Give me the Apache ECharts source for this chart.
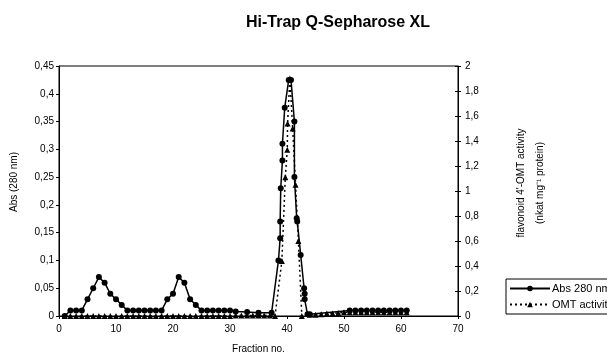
<!DOCTYPE html>
<html>
<head>
<meta charset="utf-8">
<script src="https://cdn.jsdelivr.net/npm/echarts@6/dist/echarts.min.js"></script>
<style>
    html, body {margin: 0; padding: 0; background: #fff;}
    #chart {width: 607px; height: 354px;}
</style>
</head>
<body>
<div id="chart"></div>
<script>
// Abs 280 nm, fraction no. and absorbance (left axis)
const absFractions = [1, 2, 3, 4, 5, 6, 7, 8, 9, 10, 11, 12, 13, 14, 15, 16, 17, 18, 19, 20,
    21, 22, 23, 24, 25, 26, 27, 28, 29, 30, 31, 33, 35, 37.3,
    38.5, 38.8, 38.8, 38.9, 39.2, 39.2, 39.6, 40.3, 40.7, 41.3, 41.3, 41.7, 41.8, 42.4, 43, 43.1, 43.1, 43.6, 44,
    51, 52, 53, 54, 55, 56, 57, 58, 59, 60, 61];
const absValues = [0, 0.01, 0.01, 0.01, 0.03, 0.05, 0.07, 0.06, 0.04, 0.03, 0.02, 0.01, 0.01, 0.01, 0.01, 0.01, 0.01, 0.01, 0.03, 0.04,
    0.07, 0.06, 0.03, 0.02, 0.01, 0.01, 0.01, 0.01, 0.01, 0.01, 0.008, 0.007, 0.006, 0.006,
    0.1, 0.14, 0.17, 0.23, 0.28, 0.31, 0.375, 0.425, 0.425, 0.35, 0.25, 0.176, 0.17, 0.11, 0.05, 0.04, 0.03, 0.003, 0.003,
    0.01, 0.01, 0.01, 0.01, 0.01, 0.01, 0.01, 0.01, 0.01, 0.01, 0.01];

// OMT activity, fraction no. and activity (right axis)
const omtFractions = [1, 2, 3, 4, 5, 6, 7, 8, 9, 10, 11, 12, 13, 14, 15, 16, 17, 18, 19, 20,
    21, 22, 23, 24, 25, 26, 27, 28, 29, 30, 31, 32, 33, 34, 35, 36, 37, 37.9,
    39.1, 39.7, 40.05, 40.1, 40.5, 41, 41.5, 42, 42.6,
    44, 45, 46, 47, 48, 49, 50, 51, 52, 53, 54, 55, 56, 57, 58, 59, 60, 61];
const omtValues = [0, 0, 0, 0, 0, 0, 0, 0, 0, 0, 0, 0, 0, 0, 0, 0, 0, 0, 0, 0,
    0, 0, 0, 0, 0, 0, 0, 0, 0, 0, 0.005, 0.005, 0.005, 0.005, 0.005, 0.005, 0.005, 0,
    0.44, 1.11, 1.33, 1.54, 1.9, 1.5, 1.05, 0.6, 0,
    0.01, 0.01, 0.015, 0.02, 0.02, 0.025, 0.03, 0.03, 0.03, 0.03, 0.03, 0.03, 0.03, 0.03, 0.03, 0.03, 0.03, 0.03];

const seriesNames = ['Abs 280 nm', 'OMT activity'];

function pairs(xs, ys) {
    return xs.map((x, i) => [x, ys[i]]);
}

// Decimal comma like the original
function commaLabel(v) {
    return String(Math.round(v * 1000) / 1000).replace('.', ',');
}

let myChart = echarts.init(document.getElementById('chart'));

let option = {
    backgroundColor: '#fff',
    animation: false,
    textStyle: {fontFamily: 'Liberation Sans, Arial, sans-serif', color: '#000'},
    title: {
        text: 'Hi-Trap Q-Sepharose XL',
        left: 333,
        textAlign: 'center',
        top: 10,
        textStyle: {fontSize: 16, fontWeight: 'bold', color: '#000', fontFamily: 'Liberation Sans, Arial, sans-serif'}
    },
    legend: {
        orient: 'vertical',
        left: 506,
        top: 279,
        padding: [4, 4, 4, 3],
        itemGap: 5,
        itemWidth: 40,
        itemHeight: 7,
        borderColor: '#000',
        borderWidth: 1,
        borderRadius: 0,
        textStyle: {fontSize: 11, color: '#000', padding: [0, 0, 0, -3]},
        data: seriesNames
    },
    grid: {
        left: 59,
        right: 149,
        top: 66,
        bottom: 38,
        outerBoundsMode: 'none',
        show: true,
        borderColor: '#000',
        borderWidth: 1
    },
    xAxis: {
        type: 'value',
        min: 0,
        max: 70,
        interval: 10,
        name: 'Fraction no.',
        nameLocation: 'middle',
        nameGap: 28,
        nameTextStyle: {fontSize: 10, color: '#000'},
        splitLine: {show: false},
        axisLine: {lineStyle: {color: '#000', width: 1}},
        axisTick: {lineStyle: {color: '#000'}, length: 3},
        axisLabel: {fontSize: 10, color: '#000', margin: 8}
    },
    yAxis: [
        {
            type: 'value',
            min: 0,
            max: 0.45,
            interval: 0.05,
            position: 'left',
            name: 'Abs (280 nm)',
            nameLocation: 'middle',
            nameRotate: 90,
            nameGap: 40,
            nameTextStyle: {fontSize: 10, color: '#000', padding: [0, 0, 0, 18]},
            splitLine: {show: false},
            axisLine: {show: true, lineStyle: {color: '#000', width: 1}},
            axisTick: {show: true, lineStyle: {color: '#000'}, length: 3},
            axisLabel: {fontSize: 10, color: '#000', margin: 5, formatter: commaLabel}
        },
        {
            type: 'value',
            min: 0,
            max: 2,
            interval: 0.2,
            position: 'right',
            name: 'flavonoid 4\'-OMT activity\n(nkat mg\u207B\u00B9 protein)',
            nameLocation: 'middle',
            nameRotate: 90,
            nameGap: 54,
            nameTextStyle: {fontSize: 10, color: '#000', lineHeight: 19, padding: [0, 0, 0, 16]},
            splitLine: {show: false},
            axisLine: {show: true, lineStyle: {color: '#000', width: 1}},
            axisTick: {show: true, lineStyle: {color: '#000'}, length: 3},
            axisLabel: {fontSize: 10, color: '#000', margin: 7, formatter: commaLabel}
        },
        {
            // inner half of the right axis ticks (they cross the axis line)
            type: 'value',
            min: 0,
            max: 2,
            interval: 0.2,
            position: 'right',
            splitLine: {show: false},
            axisLine: {show: false},
            axisTick: {show: true, inside: true, lineStyle: {color: '#000'}, length: 3},
            axisLabel: {show: false}
        }
    ],
    series: [
        {
            name: seriesNames[0],
            type: 'line',
            yAxisIndex: 0,
            data: pairs(absFractions, absValues),
            symbol: 'circle',
            symbolSize: 6,
            color: '#000',
            lineStyle: {color: '#000', width: 1.5, type: 'solid'},
            itemStyle: {color: '#000'},
            z: 3
        },
        {
            name: seriesNames[1],
            type: 'line',
            yAxisIndex: 1,
            data: pairs(omtFractions, omtValues),
            symbol: 'triangle',
            symbolSize: 6,
            color: '#000',
            lineStyle: {color: '#000', width: 1.5, type: [2, 3]},
            itemStyle: {color: '#000'},
            z: 2
        }
    ]
};

myChart.setOption(option);
</script>
</body>
</html>
